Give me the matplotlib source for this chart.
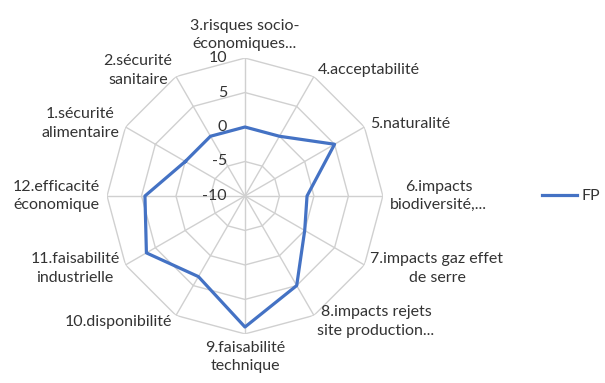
import numpy as np
import matplotlib
matplotlib.use('Agg')
import matplotlib.pyplot as plt
from matplotlib.transforms import offset_copy

########################################################################
# data

categories = ['1.sécurité\nalimentaire', '2.sécurité\nsanitaire',
              '3.risques socio-\néconomiques...', '4.acceptabilité',
              '5.naturalité', '6.impacts\nbiodiversité,...',
              '7.impacts gaz effet\nde serre', '8.impacts rejets\nsite production...',
              '9.faisabilité\ntechnique', '10.disponibilité',
              '11.faisabilité\nindustrielle', '12.efficacité\néconomique']
fp_values = [0, 0, 0, 0, 5, -1, 0, 5, 9, 3.5, 6.5, 4.5]
r_ticks = [-10, -5, 0, 5, 10]
series_name = 'FP'

########################################################################

plt.rcParams['font.family'] = ['Lato', 'DejaVu Sans']
txt_color = '#333333'
grid_color = '#d0d0d0'
fs = 11.5

n = len(categories)
# category 3 at the top, going clockwise
theta = np.radians((np.arange(n) - 2) * 30.0)
theta_c = np.append(theta, theta[0])

fig = plt.figure(figsize=(6.05, 3.83), dpi=100)
ax = fig.add_axes([0.1769, 0.128, 0.456, 0.7206], projection='polar')
ax.set_theta_offset(np.pi / 2)
ax.set_theta_direction(-1)
ax.set_ylim(-10, 10)
ax.grid(False)
ax.spines['polar'].set_visible(False)
ax.set_xticks([])
ax.set_yticks([])
ax.patch.set_alpha(0)

# polygon grid
for v in r_ticks[1:]:
    ax.plot(theta_c, [v] * (n + 1), color=grid_color, lw=1.0, zorder=1)
for t in theta:
    ax.plot([t, t], [-10, 10], color=grid_color, lw=1.0, zorder=1)

# series
vals_c = np.append(fp_values, fp_values[0])
ax.plot(theta_c, vals_c, color='#4472C4', lw=2.3, label=series_name, zorder=3)

# radial tick labels
tr = offset_copy(ax.transData, fig=fig, x=-18, y=0, units='dots')
for v in r_ticks:
    ax.text(0, v, str(v), transform=tr, ha='right', va='center',
            fontsize=fs, color=txt_color)

# category labels
for t, lab in zip(theta, categories):
    ang = (t + 2 * np.pi) % (2 * np.pi)
    sx, sy = np.sin(ang), np.cos(ang)
    if sx > 0.1:
        ha = 'left'
    elif sx < -0.1:
        ha = 'right'
    else:
        ha = 'center'
    if sy > 0.9:
        va = 'bottom'
    elif sy < -0.9:
        va = 'top'
    else:
        va = 'center'
    trl = offset_copy(ax.transData, fig=fig, x=7 * sx, y=7 * sy, units='dots')
    ax.text(t, 10, lab, transform=trl, ha=ha, va=va, multialignment='center',
            fontsize=fs, color=txt_color, linespacing=1.4, clip_on=False)

fig.legend(loc='center left', bbox_to_anchor=(542 / 605, 0.488), frameon=False,
           borderaxespad=0, borderpad=0, fontsize=fs, handlelength=2.2,
           handletextpad=0.3, labelcolor=txt_color)

fig.savefig('out.png', dpi=100)
